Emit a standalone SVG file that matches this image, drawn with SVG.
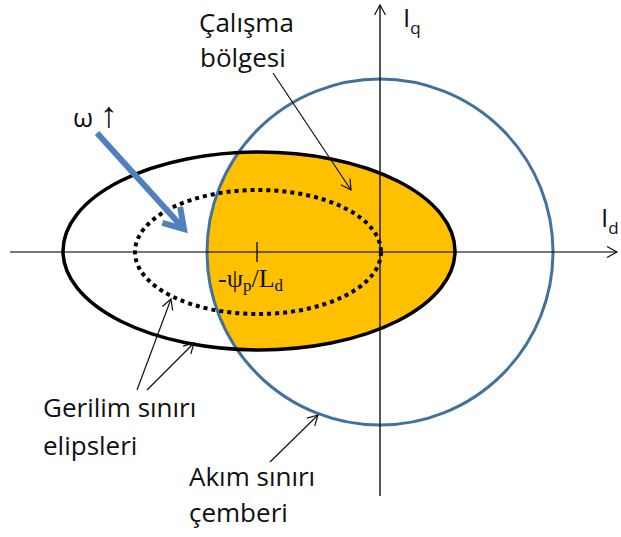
<svg xmlns="http://www.w3.org/2000/svg" width="621" height="537" viewBox="0 0 621 537">
<style>
.lbl{font-family:"Open Sans","Liberation Sans",sans-serif;font-size:26px;fill:#111}
.math{font-family:"Liberation Serif","Times New Roman",serif;fill:#111}
.thin{stroke:#111;stroke-width:1.2;fill:none}
</style>
<defs>
<marker id="ah" markerUnits="userSpaceOnUse" markerWidth="14" markerHeight="14" viewBox="-12 -7 14 14" refX="0" refY="0" orient="auto">
<path d="M-10,-5.5 L0,0 L-10,5.5" fill="none" stroke="#111" stroke-width="1.2"/>
</marker>
<marker id="bh" markerUnits="userSpaceOnUse" markerWidth="30" markerHeight="34" viewBox="-24 -17 30 34" refX="0" refY="0" orient="auto">
<path d="M-19,-12 L0,0 L-19,12" fill="none" stroke="#4F81BD" stroke-width="6" stroke-linecap="butt" stroke-linejoin="miter"/>
</marker>
<clipPath id="cc"><circle cx="380" cy="252" r="173"/></clipPath>
</defs>
<g id="region"><ellipse cx="259" cy="251" rx="196" ry="99" fill="#FFC000" clip-path="url(#cc)"/></g>
<g id="current-circle"><circle cx="380" cy="252" r="173" fill="none" stroke="#41719C" stroke-width="3"/></g>
<g id="voltage-ellipse-outer"><ellipse cx="259" cy="251" rx="196" ry="99" fill="none" stroke="#000" stroke-width="3.5"/></g>
<g id="voltage-ellipse-inner"><ellipse cx="258" cy="252" rx="123" ry="62" fill="none" stroke="#000" stroke-width="4" stroke-dasharray="4 4"/></g>
<g id="axes">
<line x1="10" y1="252" x2="617" y2="252" stroke="#000" stroke-opacity="0.53" stroke-width="2" marker-end="url(#ah)"/>
<line x1="380" y1="496" x2="380" y2="5" stroke="#111" stroke-width="1.4" marker-end="url(#ah)"/>
<line x1="257" y1="242" x2="257" y2="262" stroke="#111" stroke-width="1.4"/>
<text x="403" y="27" class="lbl" font-size="24">I<tspan font-size="17" dy="7">q</tspan></text>
<text x="601" y="227" class="lbl" font-size="25">I<tspan font-size="17" dy="7">d</tspan></text>
<text x="218" y="287" class="math" font-size="26">-ψ<tspan font-size="17" dy="4">p</tspan><tspan dy="-4">/L</tspan><tspan font-size="17" dy="4">d</tspan></text>
</g>
<g id="omega">
<line x1="97" y1="133" x2="184" y2="229" stroke="#4F81BD" stroke-width="6" marker-end="url(#bh)"/>
<text x="73" y="127" class="lbl" font-size="27">ω <tspan font-family="'Liberation Sans',sans-serif" font-size="36">↑</tspan></text>
</g>
<g id="label-calisma">
<text x="199" y="32" class="lbl">Çalışma</text>
<text x="200" y="67" class="lbl">bölgesi</text>
</g>
<g id="label-gerilim">
<text x="43" y="417" class="lbl">Gerilim sınırı</text>
<text x="43" y="455" class="lbl">elipsleri</text>
</g>
<g id="label-akim">
<text x="189" y="486" class="lbl">Akım sınırı</text>
<text x="189" y="522" class="lbl">çemberi</text>
</g>
<g id="connectors">
<line x1="273" y1="73" x2="351" y2="190" class="thin" marker-end="url(#ah)"/>
<line x1="137" y1="390" x2="171" y2="299" class="thin" marker-end="url(#ah)"/>
<line x1="147" y1="390" x2="194" y2="343" class="thin" marker-end="url(#ah)"/>
<line x1="270" y1="462" x2="318" y2="415" class="thin" marker-end="url(#ah)"/>
</g>
</svg>
